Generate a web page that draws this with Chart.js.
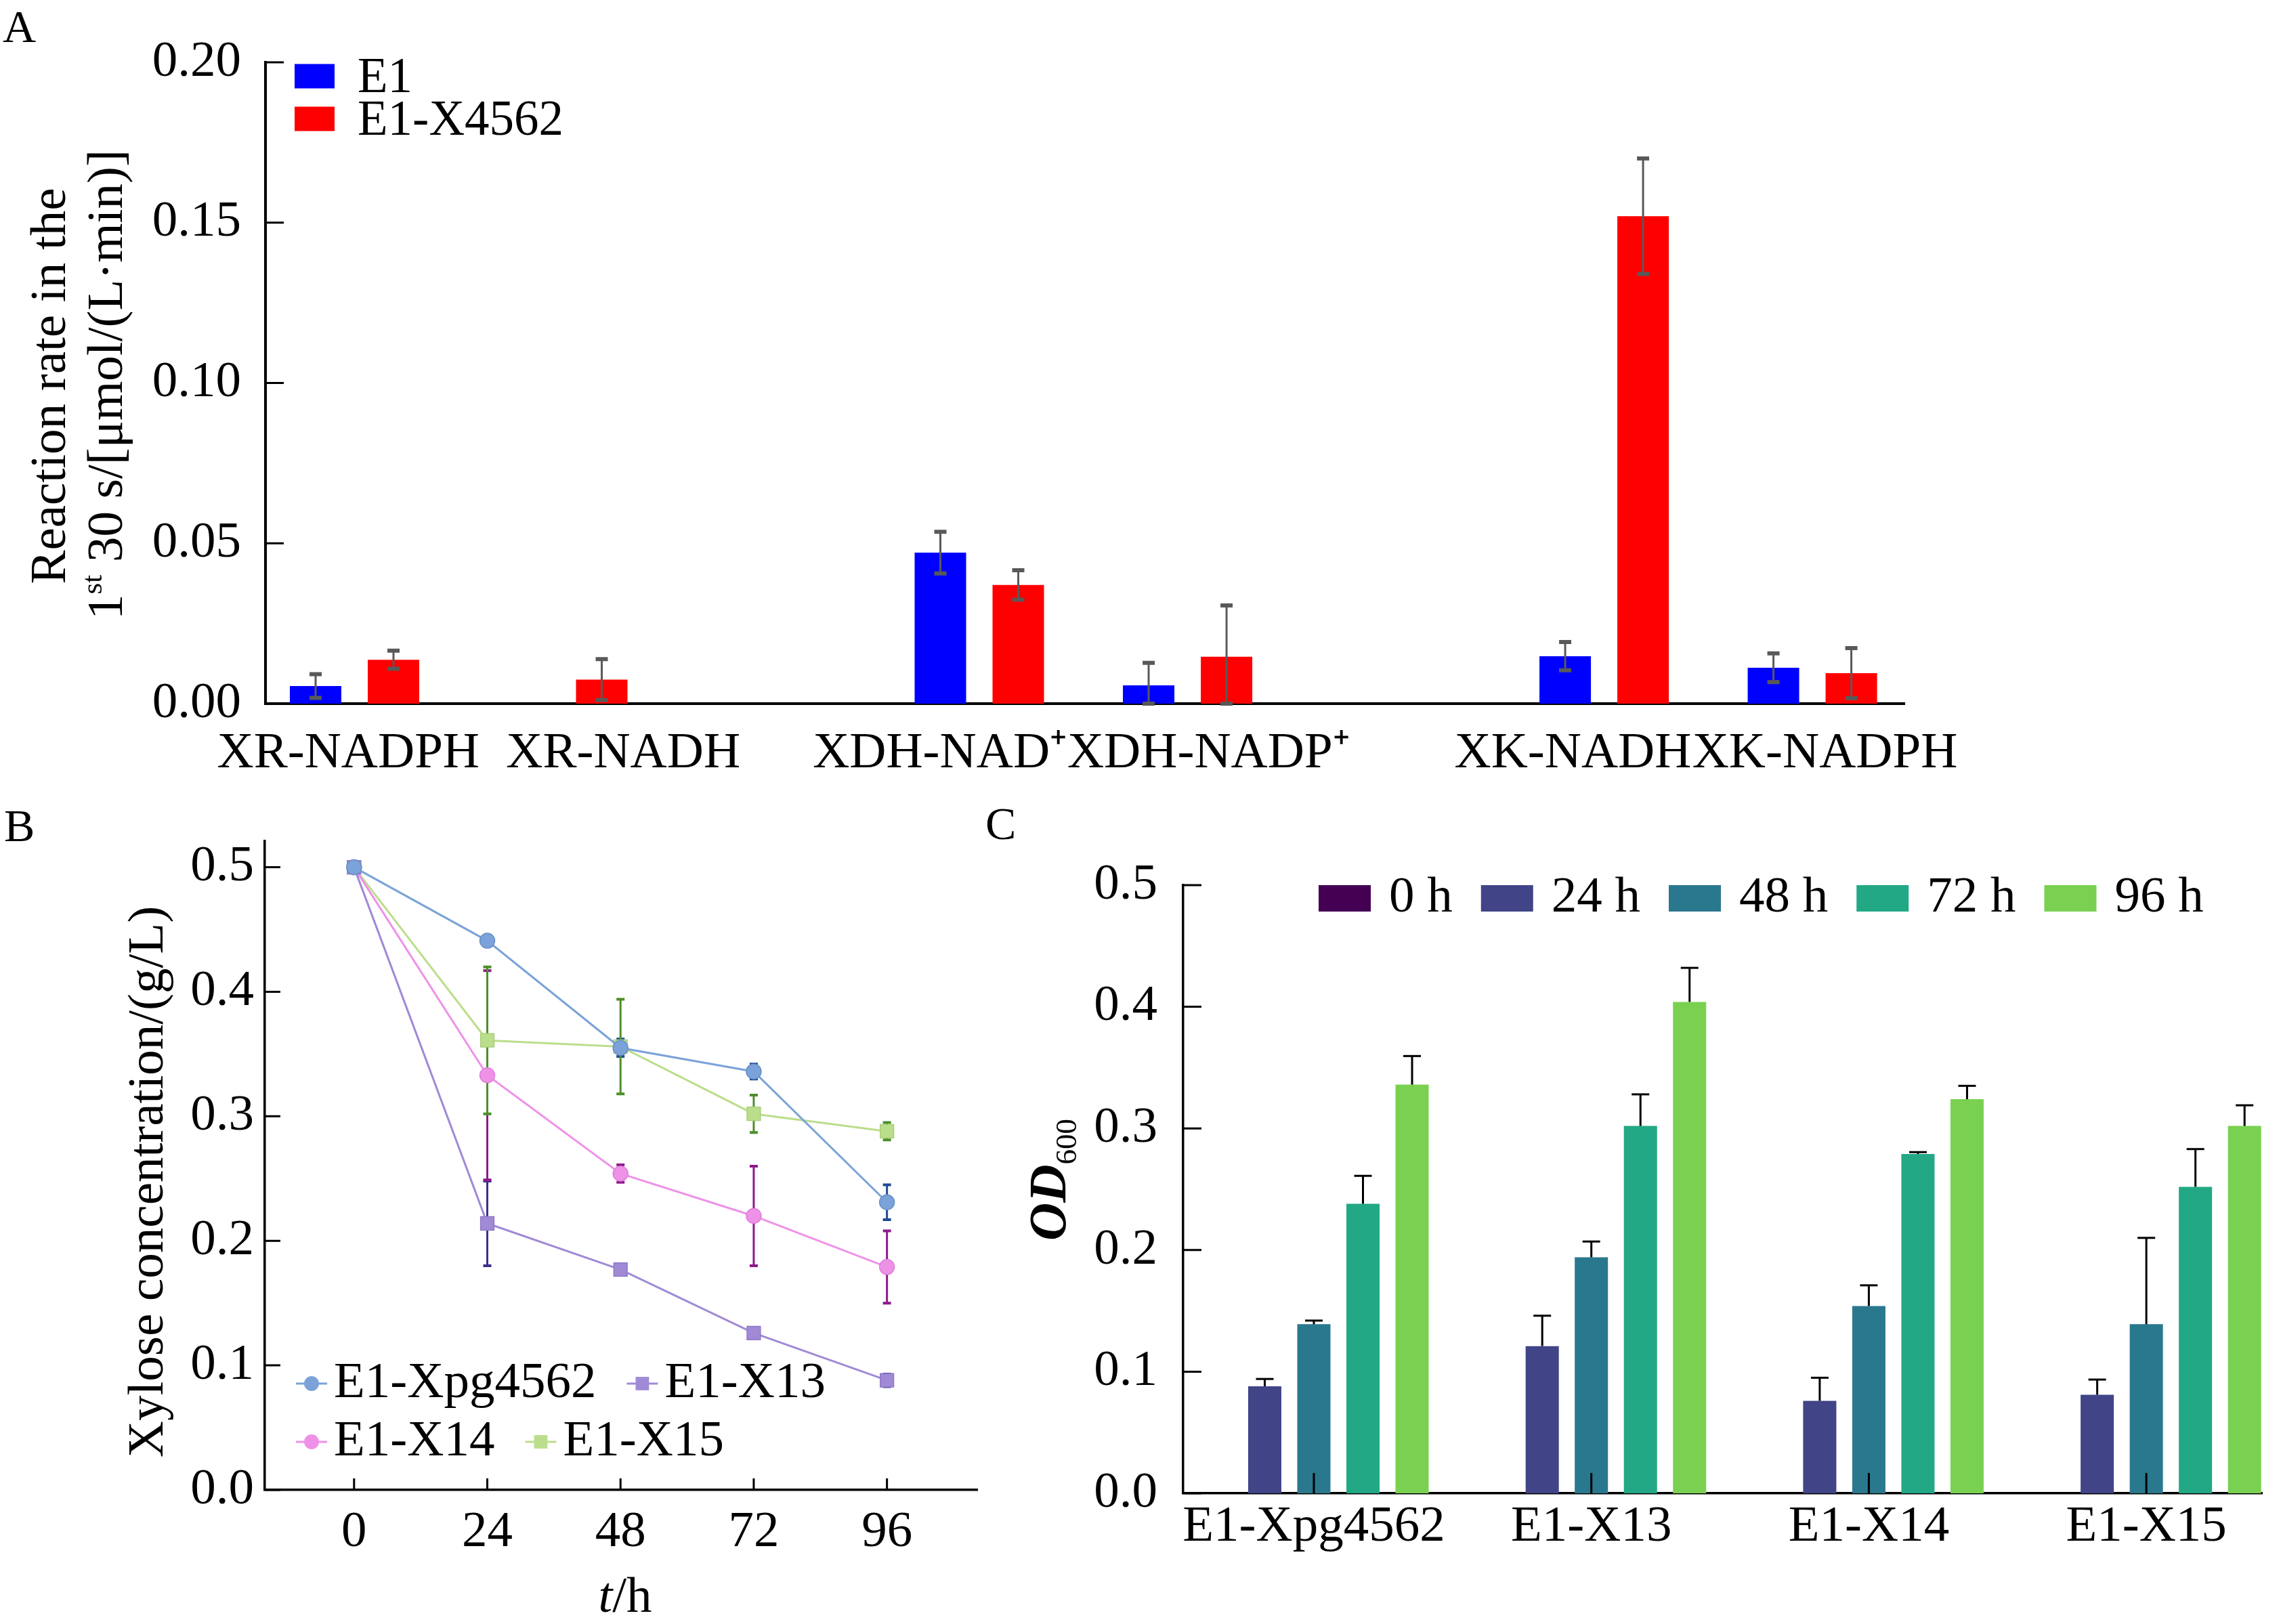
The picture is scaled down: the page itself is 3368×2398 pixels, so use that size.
<!DOCTYPE html>
<html>
<head>
<meta charset="utf-8">
<script src="https://cdn.jsdelivr.net/npm/chart.js@4.4.0/dist/chart.umd.min.js"></script>
<style>
  html, body { margin: 0; padding: 0; background: #fff; }
  body { width: 3368px; height: 2398px; position: relative; overflow: hidden; }
  canvas { position: absolute; }
</style>
</head>
<body>
<canvas id="chartA" width="3368" height="1180" style="left:0;top:0;width:3368px;height:1180px"></canvas>
<canvas id="chartB" width="1480" height="1248" style="left:0;top:1150px;width:1480px;height:1248px"></canvas>
<canvas id="chartC" width="1948" height="1248" style="left:1420px;top:1150px;width:1948px;height:1248px"></canvas>
<script>
// Panel A: enzyme activity, E1 vs E1-X4562 (empty strings are gaps between enzyme groups)
const enzymeLabels = ['XR-NADPH', 'XR-NADH', '', 'XDH-NAD⁺', 'XDH-NADP⁺', '', 'XK-NADH', 'XK-NADPH'];
const e1Rate = [0.0055, 0, null, 0.0471, 0.0057, null, 0.0148, 0.0112];
const e1Err = [0.0037, 0, null, 0.0065, 0.007, null, 0.0044, 0.0045];
const x4562Rate = [0.0137, 0.0075, null, 0.0370, 0.0146, null, 0.152, 0.0095];
const x4562Err = [0.0028, 0.0064, null, 0.0046, 0.016, null, 0.018, 0.0078];
const rateTicks = [0, 0.05, 0.10, 0.15, 0.20];

// Panel B: xylose concentration over time
const hours = [0, 24, 48, 72, 96];
const xpg4562 = [0.5, 0.441, 0.355, 0.336, 0.231];
const xpg4562Err = [0, 0.003, 0.007, 0.006, 0.014];
const x13 = [0.5, 0.214, 0.177, 0.126, 0.088];
const x13Err = [0, 0.034, 0.003, 0.004, 0.005];
const x14 = [0.5, 0.333, 0.254, 0.220, 0.179];
const x14Err = [0, 0.084, 0.007, 0.040, 0.029];
const x15 = [0.5, 0.361, 0.356, 0.302, 0.288];
const x15Err = [0, 0.059, 0.038, 0.015, 0.007];
const xyloseTicks = [0, 0.1, 0.2, 0.3, 0.4, 0.5];

// Panel C: OD600 per strain and sampling time
const strains = ['E1-Xpg4562', 'E1-X13', 'E1-X14', 'E1-X15'];
const od0h = [0, 0, 0, 0];
const od24h = [0.088, 0.121, 0.076, 0.081];
const od24hErr = [0.006, 0.025, 0.019, 0.0125];
const od48h = [0.139, 0.194, 0.154, 0.139];
const od48hErr = [0.003, 0.013, 0.017, 0.071];
const od72h = [0.238, 0.302, 0.279, 0.252];
const od72hErr = [0.023, 0.026, 0.0015, 0.031];
const od96h = [0.336, 0.404, 0.324, 0.302];
const od96hErr = [0.0235, 0.028, 0.011, 0.017];
const odTicks = [0, 0.1, 0.2, 0.3, 0.4, 0.5];

const FONT = "'Liberation Serif', 'Times New Roman', serif";
Chart.defaults.font.family = FONT;
Chart.defaults.font.size = 75;
Chart.defaults.color = '#000';

function toPoints(xs, ys) {
  const pts = [];
  ys.forEach((y, i) => { if (y !== null) pts.push({ x: xs[i], y: y }); });
  return pts;
}

function drawErrors(chart) {
  const ctx = chart.ctx;
  chart.data.datasets.forEach((ds, i) => {
    if (!ds.errors) return;
    const meta = chart.getDatasetMeta(i);
    const yScale = chart.scales[meta.yAxisID];
    const st = ds.errorStyle;
    ctx.save();
    ctx.strokeStyle = st.color;
    meta.data.forEach((el, j) => {
      const v = ds.data[j].y;
      const e = ds.errorValues[j];
      if (v === null || !e) return;
      const x = el.x;
      const yTop = yScale.getPixelForValue(v + e);
      const yBot = st.upperOnly ? yScale.getPixelForValue(v) : yScale.getPixelForValue(Math.max(v - e, 0));
      ctx.lineWidth = st.width;
      ctx.beginPath();
      ctx.moveTo(x, yTop);
      ctx.lineTo(x, yBot);
      ctx.stroke();
      ctx.lineWidth = st.capWidth;
      ctx.beginPath();
      ctx.moveTo(x - st.cap, yTop);
      ctx.lineTo(x + st.cap, yTop);
      if (!st.upperOnly) {
        ctx.moveTo(x - st.cap, yBot);
        ctx.lineTo(x + st.cap, yBot);
      }
      ctx.stroke();
    });
    ctx.restore();
  });
}

function drawInnerTicks(chart, list) {
  const ctx = chart.ctx;
  const area = chart.chartArea;
  list.forEach(t => {
    const scale = chart.scales[t.axis];
    ctx.save();
    ctx.strokeStyle = '#000';
    ctx.lineWidth = t.width;
    ctx.beginPath();
    scale.ticks.forEach(tk => {
      const p = scale.getPixelForValue(tk.value);
      if (t.axis === 'y') {
        ctx.moveTo(area.left, p);
        ctx.lineTo(area.left + t.len, p);
      } else {
        ctx.moveTo(p, area.bottom);
        ctx.lineTo(p, area.bottom - t.len);
      }
    });
    ctx.stroke();
    ctx.restore();
  });
}

function drawMarker(ctx, style, r, x, y) {
  ctx.beginPath();
  if (style === 'rect') {
    const s = Math.SQRT1_2 * r;
    ctx.rect(x - s, y - s, 2 * s, 2 * s);
  } else {
    ctx.arc(x, y, r, 0, Math.PI * 2);
  }
  ctx.fill();
}

function drawLegend(chart, o) {
  const ctx = chart.ctx;
  const area = chart.chartArea;
  ctx.save();
  ctx.font = o.font;
  ctx.textBaseline = 'middle';
  o.rows.forEach((row, r) => {
    let x = area.left + o.x;
    const y = (o.fromBottom ? area.bottom : area.top) + o.y + r * o.rowStep;
    row.forEach(i => {
      const ds = chart.data.datasets[i];
      if (o.kind === 'box') {
        ctx.fillStyle = ds.backgroundColor;
        ctx.fillRect(x, y - o.boxH / 2, o.boxW, o.boxH);
      } else {
        ctx.strokeStyle = ds.borderColor;
        ctx.lineWidth = ds.borderWidth;
        ctx.beginPath();
        ctx.moveTo(x, y);
        ctx.lineTo(x + o.boxW, y);
        ctx.stroke();
        ctx.fillStyle = ds.pointBackgroundColor;
        drawMarker(ctx, ds.pointStyle, ds.pointRadius, x + o.boxW / 2, y);
      }
      ctx.fillStyle = '#000';
      const tx = x + o.boxW + o.gap;
      ctx.fillText(ds.label, tx, y + (o.textDy || 0));
      x = tx + ctx.measureText(ds.label).width + o.itemGap;
    });
  });
  ctx.restore();
}

function drawRich(ctx, t) {
  ctx.save();
  ctx.translate(t.x, t.y);
  if (t.rotate) ctx.rotate(-Math.PI / 2);
  ctx.textBaseline = 'alphabetic';
  ctx.textAlign = 'left';
  ctx.fillStyle = '#000';
  let total = 0;
  t.parts.forEach(p => { ctx.font = p.font; p.w = ctx.measureText(p.text).width; total += p.w; });
  let x = t.align === 'left' ? 0 : -total / 2;
  t.parts.forEach(p => { ctx.font = p.font; ctx.fillText(p.text, x, p.dy || 0); x += p.w; });
  ctx.restore();
}

const decorPlugin = {
  id: 'decor',
  beforeDatasetsDraw(chart, args, opts) { if (opts.errorsBelow) drawErrors(chart); },
  afterDatasetsDraw(chart, args, opts) { if (!opts.errorsBelow) drawErrors(chart); },
  afterDraw(chart, args, opts) {
    drawInnerTicks(chart, opts.innerTicks || []);
    if (opts.legend) drawLegend(chart, opts.legend);
    (opts.texts || []).forEach(t => drawRich(chart.ctx, t));
  }
};

function fixedTicks(values) {
  return scale => { scale.ticks = values.map(v => ({ value: v })); };
}

// ---------- A ----------
const enzymeIdx = enzymeLabels.map((_, i) => i);
const enzymeShown = enzymeLabels.filter(l => l !== '');
// label anchors as drawn in the original (they sit a little off the group centres)
const enzymeLabelPos = [-0.03, 1.29, 2.81, 4.10, 5.85, 7.06];
const errA = { color: '#595959', width: 3, cap: 9, capWidth: 6 };

new Chart(document.getElementById('chartA'), {
  type: 'bar',
  data: {
    datasets: [
      { label: 'E1', data: toPoints(enzymeIdx, e1Rate), errorValues: e1Err.filter(v => v !== null),
        errors: true, backgroundColor: '#0000ff', borderWidth: 0, errorStyle: errA },
      { label: 'E1-X4562', data: toPoints(enzymeIdx, x4562Rate), errorValues: x4562Err.filter(v => v !== null),
        errors: true, backgroundColor: '#ff0000', borderWidth: 0, errorStyle: errA }
    ]
  },
  options: {
    responsive: false, animation: false, devicePixelRatio: 1,
    layout: { padding: { left: 0, top: 92, right: 556, bottom: 0 } },
    datasets: { bar: { categoryPercentage: 0.748, barPercentage: 0.661 } },
    plugins: {
      legend: { display: false }, tooltip: { enabled: false },
      decor: {
        innerTicks: [{ axis: 'y', len: 27, width: 3 }],
        legend: { kind: 'box', rows: [[0], [1]], x: 43, y: 20.5, rowStep: 63, boxW: 59, boxH: 36,
          gap: 34, itemGap: 40, textDy: 4, font: `73px ${FONT}` },
        texts: [
          { x: 4, y: 62, align: 'left', parts: [{ text: 'A', font: `68px ${FONT}` }] },
          { x: 96, y: 570, rotate: true, parts: [{ text: 'Reaction rate in the', font: `75px ${FONT}` }] },
          { x: 180, y: 568, rotate: true, parts: [
            { text: '1', font: `75px ${FONT}` },
            { text: 'st', font: `43px ${FONT}`, dy: -30 },
            { text: ' 30 s/[μmol/(L·min)]', font: `75px ${FONT}` }] }
        ]
      }
    },
    scales: {
      x: {
        type: 'linear', min: -0.4276, max: 7.442, offset: false,
        grid: { display: false, drawTicks: false, offset: false },
        border: { color: '#000', width: 4 },
        afterBuildTicks: fixedTicks(enzymeLabelPos),
        ticks: { padding: 29, autoSkip: false, maxRotation: 0, minRotation: 0,
          callback: (v, i) => enzymeShown[i] },
        afterFit: s => { s.height = 141; }
      },
      y: {
        min: 0, max: 0.2,
        grid: { display: false, drawTicks: false },
        border: { color: '#000', width: 4 },
        afterBuildTicks: fixedTicks(rateTicks),
        ticks: { padding: 36, callback: v => v.toFixed(2) },
        afterFit: s => { s.width = 392; }
      }
    }
  },
  plugins: [decorPlugin]
});

// ---------- B ----------
function lineSet(label, values, errs, color, edge, style, radius, errColor) {
  return {
    label: label, data: toPoints(hours, values), errors: true, errorValues: errs,
    borderColor: color, backgroundColor: color, borderWidth: 3,
    pointStyle: style, pointRadius: radius, pointBackgroundColor: color,
    pointBorderColor: edge, pointBorderWidth: 1.5,
    errorStyle: { color: errColor, width: 3, cap: 6, capWidth: 4 }
  };
}

new Chart(document.getElementById('chartB'), {
  type: 'line',
  data: {
    datasets: [
      lineSet('E1-Xpg4562', xpg4562, xpg4562Err, '#7ba3d9', '#6a90c8', 'circle', 11, '#1f4a94'),
      lineSet('E1-X13', x13, x13Err, '#a08ad6', '#9079c8', 'rect', 14, '#3b2f8c'),
      lineSet('E1-X14', x14, x14Err, '#ee92e8', '#e07ed9', 'circle', 11, '#8e1a8c'),
      lineSet('E1-X15', x15, x15Err, '#bbde8c', '#a9d078', 'rect', 14, '#4d8f2a')
    ]
  },
  options: {
    responsive: false, animation: false, devicePixelRatio: 1,
    layout: { padding: { left: 0, top: 92, right: 37, bottom: 0 } },
    plugins: {
      legend: { display: false }, tooltip: { enabled: false },
      decor: {
        errorsBelow: true,
        innerTicks: [{ axis: 'y', len: 23, width: 3 }, { axis: 'x', len: 17, width: 3 }],
        legend: { kind: 'line', rows: [[0, 1], [2, 3]], x: 46, y: -157, fromBottom: true, rowStep: 86,
          boxW: 46, gap: 10, itemGap: 45, font: `75px ${FONT}` },
        texts: [
          { x: 6, y: 92, align: 'left', parts: [{ text: 'B', font: `68px ${FONT}` }] },
          { x: 240, y: 595, rotate: true, parts: [{ text: 'Xylose concentration/(g/L)', font: `75px ${FONT}` }] },
          { x: 923, y: 1230, parts: [
            { text: 't', font: `italic 75px ${FONT}` },
            { text: '/h', font: `75px ${FONT}` }] }
        ]
      }
    },
    scales: {
      x: {
        type: 'linear', min: -16.08, max: 112.27,
        grid: { display: false, drawTicks: false },
        border: { color: '#000', width: 3.5 },
        afterBuildTicks: fixedTicks(hours),
        ticks: { padding: 18, autoSkip: false, maxRotation: 0 },
        afterFit: s => { s.height = 198; }
      },
      y: {
        min: 0, max: 0.521,
        grid: { display: false, drawTicks: false },
        border: { color: '#000', width: 3.5 },
        afterBuildTicks: fixedTicks(xyloseTicks),
        ticks: { padding: 16, callback: v => v.toFixed(1) },
        afterFit: s => { s.width = 391; }
      }
    }
  },
  plugins: [decorPlugin]
});

// ---------- C ----------
const strainIdx = strains.map((_, i) => i);
const errC = { color: '#000', width: 3, cap: 13, capWidth: 3, upperOnly: true };
function barSet(label, values, errs, color) {
  return { label: label, data: toPoints(strainIdx, values), errors: true, errorValues: errs,
    backgroundColor: color, borderWidth: 0, errorStyle: errC };
}

new Chart(document.getElementById('chartC'), {
  type: 'bar',
  data: {
    datasets: [
      barSet('0 h', od0h, [0, 0, 0, 0], '#440154'),
      barSet('24 h', od24h, od24hErr, '#414487'),
      barSet('48 h', od48h, od48hErr, '#2a788e'),
      barSet('72 h', od72h, od72hErr, '#22a884'),
      barSet('96 h', od96h, od96hErr, '#7ad151')
    ]
  },
  options: {
    responsive: false, animation: false, devicePixelRatio: 1,
    layout: { padding: { left: 0, top: 157, right: 28, bottom: 0 } },
    datasets: { bar: { categoryPercentage: 0.885, barPercentage: 0.676 } },
    plugins: {
      legend: { display: false }, tooltip: { enabled: false },
      decor: {
        innerTicks: [{ axis: 'y', len: 27, width: 3 }, { axis: 'x', len: 30, width: 3 }],
        legend: { kind: 'box', rows: [[0, 1, 2, 3, 4]], x: 200, y: 19.5, rowStep: 0, boxW: 77, boxH: 39,
          gap: 27, itemGap: 42, font: `75px ${FONT}` },
        texts: [
          { x: 35, y: 89, align: 'left', parts: [{ text: 'C', font: `68px ${FONT}` }] },
          { x: 153, y: 592, rotate: true, parts: [
            { text: 'OD', font: `italic bold 78px ${FONT}` },
            { text: '600', font: `45px ${FONT}`, dy: 16 }] }
        ]
      }
    },
    scales: {
      x: {
        type: 'linear', min: -0.471, max: 3.417, offset: false,
        grid: { display: false, drawTicks: false, offset: false },
        border: { color: '#000', width: 3.5 },
        afterBuildTicks: fixedTicks(strainIdx),
        ticks: { padding: 5, autoSkip: false, maxRotation: 0, minRotation: 0,
          callback: v => strains[v] },
        afterFit: s => { s.height = 193; }
      },
      y: {
        min: 0, max: 0.5,
        grid: { display: false, drawTicks: false },
        border: { color: '#000', width: 3.5 },
        afterBuildTicks: fixedTicks(odTicks),
        ticks: { padding: 38, callback: v => v.toFixed(1) },
        afterFit: s => { s.width = 327; }
      }
    }
  },
  plugins: [decorPlugin]
});
</script>
</body>
</html>
